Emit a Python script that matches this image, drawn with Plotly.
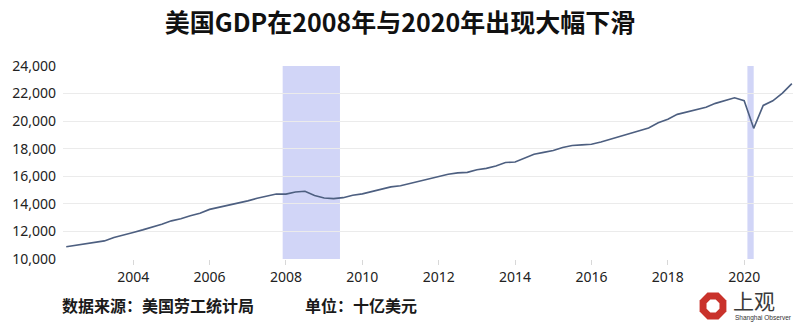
import plotly.graph_objects as go
import pandas as pd
import math

# Quarterly US GDP (billions of USD), 2002Q2 - 2021Q2
quarters = pd.date_range("2002-04-01", "2021-04-01", freq="QS").strftime("%Y-%m-%d").tolist()
gdp = [10887, 10985, 11062,
       11175, 11312, 11567, 11770,
       11923, 12112, 12305, 12527,
       12767, 12922, 13142, 13324,
       13599, 13753, 13871, 14039,
       14216, 14402, 14564, 14715,
       14706, 14866, 14917, 14607,
       14430, 14382, 14449, 14629,
       14722, 14902, 15075, 15233,
       15316, 15488, 15631, 15819,
       16000, 16144, 16249, 16285,
       16478, 16573, 16749, 16999,
       17032, 17308, 17600, 17735,
       17874, 18094, 18228, 18275,
       18326, 18480, 18680, 18870,
       19087, 19267, 19502, 19883,
       20143, 20492, 20659, 20813,
       21001, 21289, 21505, 21694,
       21481, 19477, 21138, 21478,
       22038, 22722]

recession_starts = ["2007-12-01", "2020-02-01"]
recession_ends = ["2009-06-01", "2020-04-01"]

y_ticks = [10000, 12000, 14000, 16000, 18000, 20000, 22000, 24000]
x_ticks = ["2004-01-01", "2006-01-01", "2008-01-01", "2010-01-01",
           "2012-01-01", "2014-01-01", "2016-01-01", "2018-01-01", "2020-01-01"]
x_tick_labels = ["2004", "2006", "2008", "2010", "2012", "2014", "2016", "2018", "2020"]

title = "美国GDP在2008年与2020年出现大幅下滑"
source = "数据来源：美国劳工统计局"
unit = "单位：十亿美元"

L, R, T, B = 63, 793, 66, 259
def px(x):
    return (x - L) / (R - L)
def py(y):
    return (B - y) / (B - T)

fig = go.Figure()
fig.add_trace(go.Scatter(x=quarters, y=gdp, mode="lines",
                         line=dict(color="#4d5f80", width=1.6),
                         hoverinfo="x+y", showlegend=False, cliponaxis=False))

shapes = []
for s, e in zip(recession_starts, recession_ends):
    shapes.append(dict(type="rect", xref="x", yref="paper", x0=s, x1=e, y0=0, y1=1,
                       fillcolor="#d1d5f7", line=dict(width=0), layer="below"))

def octagon(r):
    pts = []
    for i in range(8):
        a = math.pi / 8 + i * math.pi / 4
        pts.append((r * math.cos(a), r * math.sin(a)))
    return "M " + " L ".join(f"{x:.2f},{y:.2f}" for x, y in pts) + " Z"

for r, col in [(14.5, "#c9322b"), (7.0, "#ffffff")]:
    shapes.append(dict(type="path", xref="paper", yref="paper",
                       xsizemode="pixel", ysizemode="pixel",
                       xanchor=px(713), yanchor=py(306),
                       path=octagon(r), fillcolor=col, line=dict(width=0), layer="above"))

annotations = [
    dict(text=f"<b>{source}</b>", xref="paper", yref="paper",
         x=px(60), y=py(305), xanchor="left", yanchor="middle",
         showarrow=False, font=dict(family="Noto Sans CJK SC", size=16, color="#1a1a1a")),
    dict(text=f"<b>{unit}</b>", xref="paper", yref="paper",
         x=px(303), y=py(305), xanchor="left", yanchor="middle",
         showarrow=False, font=dict(family="Noto Sans CJK SC", size=16, color="#1a1a1a")),
    dict(text="上观", xref="paper", yref="paper",
         x=px(731), y=py(300), xanchor="left", yanchor="middle",
         showarrow=False, font=dict(family="Noto Sans CJK SC", size=21, color="#3a3a3a")),
    dict(text="Shanghai Observer", xref="paper", yref="paper",
         x=px(733), y=py(318), xanchor="left", yanchor="middle",
         showarrow=False, font=dict(family="Liberation Sans", size=6.5, color="#333333")),
]

fig.update_layout(
    width=800, height=331,
    margin=dict(l=L, r=800 - R, t=T, b=331 - B),
    paper_bgcolor="white", plot_bgcolor="white",
    title=dict(text=f"<b>{title}</b>", x=0.5, xanchor="center", y=0.93, yanchor="middle",
               font=dict(family="Noto Sans CJK SC", size=25, color="#111111")),
    xaxis=dict(type="date", range=["2002-03-01", "2021-04-12"],
               tickvals=x_ticks, ticktext=x_tick_labels,
               showgrid=False, zeroline=False, showline=False,
               ticks="outside", ticklen=5, tickcolor="#d8d8d8", tickwidth=1,
               tickfont=dict(family="Noto Sans", size=14, color="#222222")),
    yaxis=dict(range=[10000, 24000], tickvals=y_ticks,
               tickformat=",d", showgrid=True, gridcolor="#ebebeb", gridwidth=1,
               zeroline=False, showline=False, ticks="",
               ticklabelstandoff=6,
               tickfont=dict(family="Noto Sans", size=14, color="#222222")),
    shapes=shapes,
    annotations=annotations,
)

fig.write_html("out.html")
